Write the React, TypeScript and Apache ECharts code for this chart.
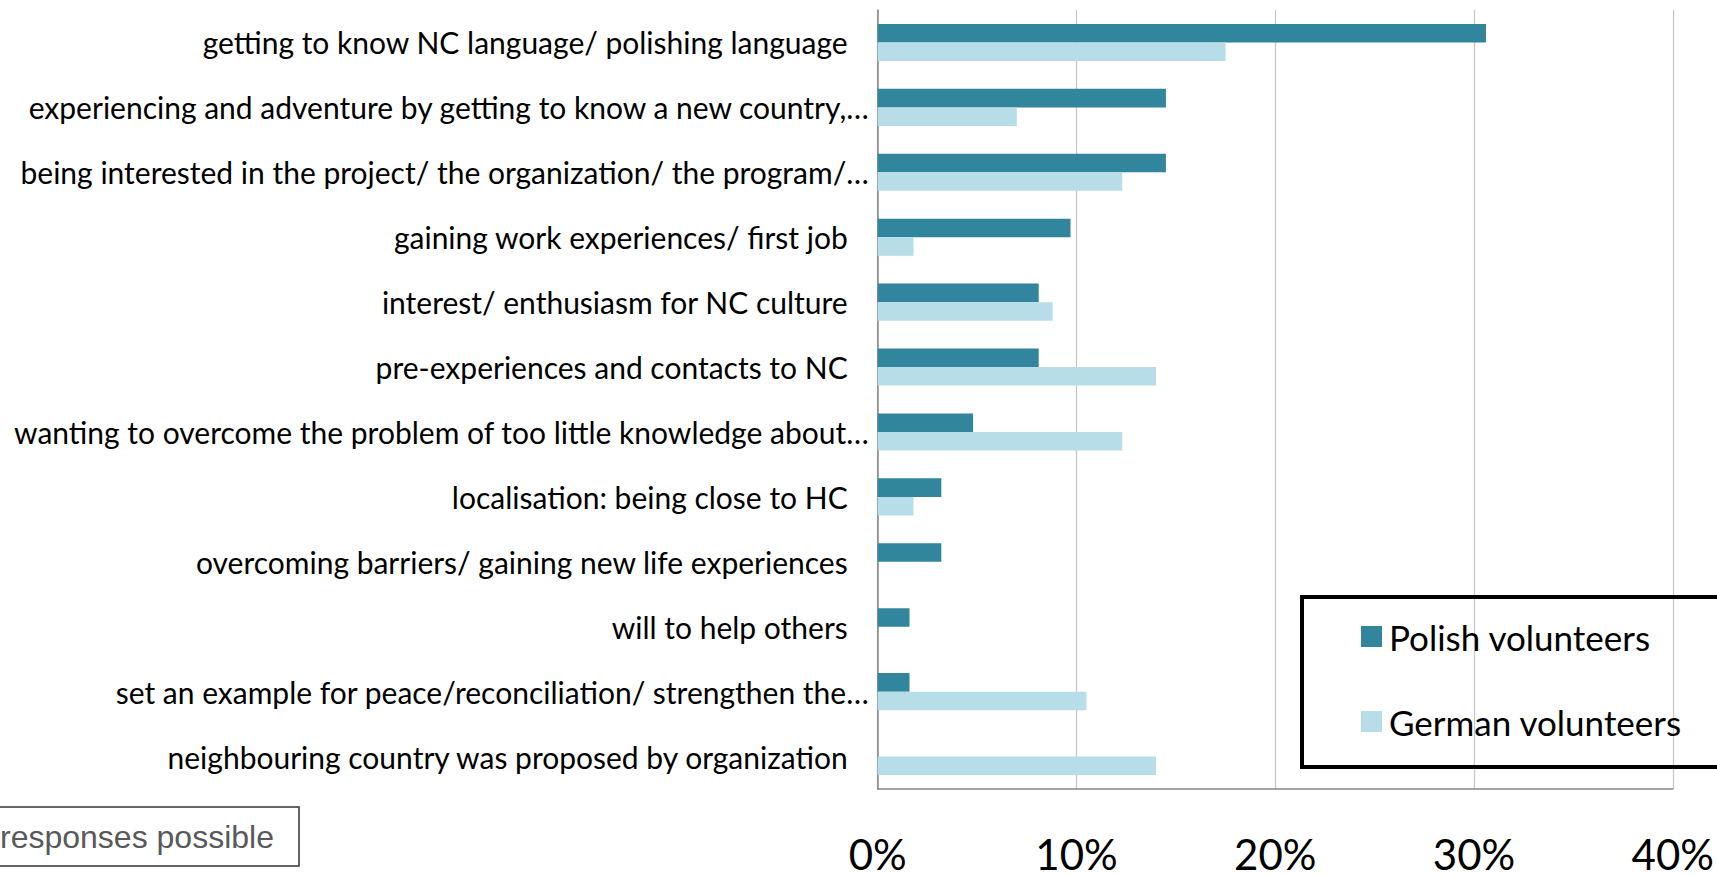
import React, { useEffect, useRef } from "react";
import * as echarts from "echarts";

const categories = [
  "getting to know NC language/ polishing language",
  "experiencing and adventure by getting to know a new country,…",
  "being interested in the project/ the organization/ the program/…",
  "gaining work experiences/ first job",
  "interest/ enthusiasm for NC culture",
  "pre-experiences and contacts to NC",
  "wanting to overcome the problem of too little knowledge about…",
  "localisation: being close to HC",
  "overcoming barriers/ gaining new life experiences",
  "will to help others",
  "set an example for peace/reconciliation/ strengthen the…",
  "neighbouring country was proposed by organization",
];

const polishValues = [30.6, 14.5, 14.5, 9.7, 8.1, 8.1, 4.8, 3.2, 3.2, 1.6, 1.6, 0];
const germanValues = [17.5, 7.0, 12.3, 1.8, 8.8, 14.0, 12.3, 1.8, 0, 0, 10.5, 14.0];

const xTicks = [0, 10, 20, 30, 40];
const seriesNames = ["Polish volunteers", "German volunteers"];
const footnote = "responses possible";

const FONT = "Lato";

export default function App() {
  const ref = useRef<HTMLDivElement>(null);
  useEffect(() => {
    if (!ref.current) return;
    const chart = echarts.init(ref.current, null, { renderer: "svg" });
    chart.setOption({
      animation: false,
      backgroundColor: "#ffffff",
      grid: { left: 877.7, right: 39.3, top: 10, bottom: 80, containLabel: false },
      legend: {
        orient: "vertical",
        left: 1356,
        top: 614,
        itemWidth: 21,
        itemHeight: 21,
        itemGap: 50,
        icon: "rect",
        data: seriesNames,
        textStyle: { fontFamily: FONT, fontSize: 35, color: "#000", padding: [0, 0, 0, 2] },
      },
      xAxis: {
        type: "value",
        min: xTicks[0],
        max: xTicks[xTicks.length - 1],
        interval: 10,
        axisLine: { show: true, lineStyle: { color: "#868686", width: 1.5 } },
        axisTick: { show: false },
        splitLine: { show: true, lineStyle: { color: "#c8c8c8", width: 1.3 } },
        axisLabel: {
          formatter: "{value}%",
          fontFamily: FONT,
          fontSize: 42,
          color: "#000",
          margin: 44,
        },
      },
      yAxis: {
        type: "category",
        inverse: true,
        data: categories,
        axisLine: { show: true, lineStyle: { color: "#868686", width: 1.5 } },
        axisTick: { show: false },
        axisLabel: {
          margin: 9,
          formatter: (v: string) => (v.endsWith("…") ? `{t|${v}}` : `{n|${v}}`),
          rich: {
            t: { fontFamily: FONT, fontSize: 30, color: "#000" },
            n: { fontFamily: FONT, fontSize: 30, color: "#000", padding: [0, 21, 0, 0] },
          },
        },
      },
      series: [
        {
          name: seriesNames[0],
          type: "bar",
          data: polishValues,
          barGap: "0%",
          barCategoryGap: "43%",
          itemStyle: { color: "#31859C" },
        },
        {
          name: seriesNames[1],
          type: "bar",
          data: germanValues,
          barGap: "0%",
          barCategoryGap: "43%",
          itemStyle: { color: "#B7DEE8" },
        },
      ],
      graphic: [
        {
          type: "rect",
          shape: { x: 1302, y: 597, width: 500, height: 170 },
          style: { fill: "none", stroke: "#000", lineWidth: 4 },
          z: 10,
        },
        {
          type: "rect",
          shape: { x: -10, y: 807, width: 309, height: 59 },
          style: { fill: "#fff", stroke: "#333", lineWidth: 1.5 },
          z: 10,
        },
        {
          type: "text",
          x: 0,
          y: 837,
          style: {
            text: footnote,
            fontFamily: "Liberation Sans",
            fontSize: 32,
            fill: "#595959",
            verticalAlign: "middle",
          },
          z: 11,
        },
      ],
    });
    return () => chart.dispose();
  }, []);
  return (
    <div
      ref={ref}
      style={{ position: "fixed", left: 0, top: 0, width: 1717, height: 875 }}
    />
  );
}
